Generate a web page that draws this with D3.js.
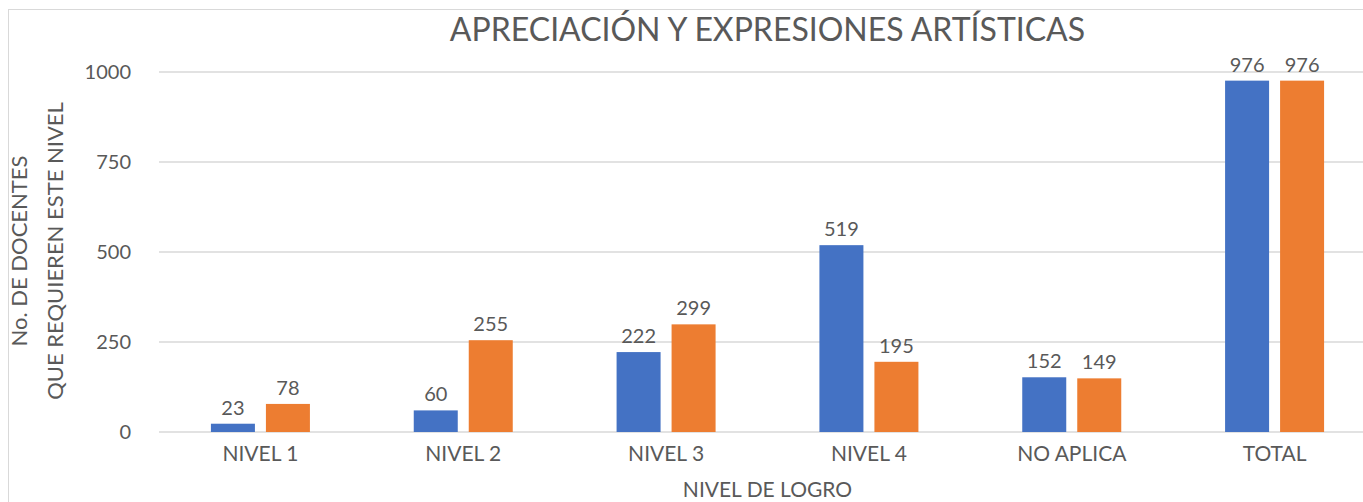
<!DOCTYPE html>
<html>
<head>
<meta charset="utf-8">
<script src="https://cdn.jsdelivr.net/npm/d3@7"></script>
<style>
  body { margin: 0; background: #fff; }
  text { font-family: Lato, "Open Sans", sans-serif; fill: #595959; }
</style>
</head>
<body>
<svg id="chart" width="1363" height="502"></svg>
<script>
// DATA
const categories = ["NIVEL 1", "NIVEL 2", "NIVEL 3", "NIVEL 4", "NO APLICA", "TOTAL"];
const seriesA = [23, 60, 222, 519, 152, 976];
const seriesB = [78, 255, 299, 195, 149, 976];
const yTicks = [0, 250, 500, 750, 1000];
const seriesNames = ["A", "B"];
const colors = ["#4472c4", "#ed7d31"];

const width = 1363, height = 502;
const margin = { top: 72, right: -13, bottom: 69, left: 159 };
const font = "Lato, 'Open Sans', sans-serif";

const svg = d3.select("svg#chart");

// frame
svg.append("rect")
    .attr("x", 8.5).attr("y", 9.5)
    .attr("width", width).attr("height", height)
    .attr("fill", "none").attr("stroke", "#d9d9d9");

// SCALES
const xScale = d3.scaleBand()
    .domain(categories)
    .range([margin.left, width - margin.right]);

const xInner = d3.scaleBand()
    .domain(seriesNames)
    .range([0, 99])
    .paddingInner(0.2);

const yScale = d3.scaleLinear()
    .domain([0, 1000])
    .range([height - margin.bottom - 1, margin.top]);

// GRID
svg.append("g")
    .selectAll("line")
    .data(yTicks)
    .join("line")
    .attr("x1", margin.left)
    .attr("x2", width)
    .attr("y1", d => yScale(d))
    .attr("y2", d => yScale(d))
    .attr("stroke", "#d9d9d9")
    .attr("stroke-width", 1.5);

// Y AXIS
const yAxis = g => g.attr("transform", `translate(131,0)`)
    .call(d3.axisLeft(yScale).tickValues(yTicks).tickFormat(d3.format("d")).tickSize(0).tickPadding(0))
    .call(g => g.select(".domain").remove())
    .call(g => g.selectAll("text").attr("font-size", 20).attr("fill", "#595959")
        .style("font-family", font));
svg.append("g").call(yAxis);

// X AXIS
const xAxis = g => g.attr("transform", `translate(0, ${yScale(0)})`)
    .call(d3.axisBottom(xScale).tickSize(0).tickPadding(14))
    .call(g => g.select(".domain").remove())
    .call(g => g.selectAll("text").attr("font-size", 21).attr("fill", "#595959")
        .style("font-family", font));
svg.append("g").call(xAxis);

// BARS
const rows = categories.map((c, i) => ({ cat: c, values: [seriesA[i], seriesB[i]] }));

const groups = svg.append("g")
    .selectAll("g")
    .data(rows)
    .join("g")
    .attr("transform", d => `translate(${xScale(d.cat) + (xScale.bandwidth() - 99) / 2},0)`);

groups.selectAll("rect")
    .data(d => d.values.map((v, j) => ({ key: seriesNames[j], value: v, color: colors[j] })))
    .join("rect")
    .attr("x", d => xInner(d.key))
    .attr("y", d => yScale(d.value))
    .attr("width", xInner.bandwidth())
    .attr("height", d => yScale(0) - yScale(d.value))
    .attr("fill", d => d.color);

groups.selectAll("text")
    .data(d => d.values.map((v, j) => ({ key: seriesNames[j], value: v })))
    .join("text")
    .attr("x", d => xInner(d.key) + xInner.bandwidth() / 2)
    .attr("y", d => yScale(d.value) - 9)
    .attr("text-anchor", "middle")
    .attr("font-size", 20)
    .text(d => d.value);

// TITLES
const cx = (margin.left + width - margin.right) / 2;
svg.append("text")
    .attr("x", cx).attr("y", 41)
    .attr("text-anchor", "middle")
    .attr("font-size", 32)
    .text("APRECIACIÓN Y EXPRESIONES ARTÍSTICAS");

svg.append("text")
    .attr("x", cx).attr("y", 497)
    .attr("text-anchor", "middle")
    .attr("font-size", 21)
    .text("NIVEL DE LOGRO");

const yLabel = svg.append("text")
    .attr("transform", "translate(0, 251) rotate(-90)")
    .attr("text-anchor", "middle")
    .attr("font-size", 22);
yLabel.append("tspan").attr("x", 0).attr("y", 27).text("No. DE DOCENTES");
yLabel.append("tspan").attr("x", 0).attr("y", 63).text("QUE REQUIEREN ESTE NIVEL");
</script>
</body>
</html>
